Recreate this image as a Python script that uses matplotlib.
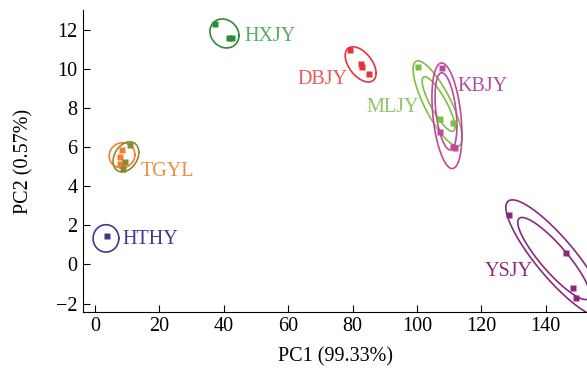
import numpy as np
import matplotlib
matplotlib.use("Agg")
import matplotlib.pyplot as plt

plt.rcParams['font.family'] = ['Liberation Serif', 'DejaVu Serif']
plt.rcParams['mathtext.fontset'] = 'stix'

# ---- data ----
groups = ["HXJY", "DBJY", "MLJY", "KBJY", "YSJY", "TGYL", "TGYL2", "HTHY"]
pts_x = {
    "HXJY": [37.3, 41.5, 42.6],
    "DBJY": [79.2, 82.6, 82.9, 85.1],
    "MLJY": [100.3, 107.1, 111.2],
    "KBJY": [107.8, 107.1, 111.3, 111.8],
    "YSJY": [128.6, 146.3, 148.4, 149.4],
    "TGYL": [8.4, 7.8, 7.8, 8.5],
    "TGYL2": [10.8, 9.4, 8.6],
    "HTHY": [3.7],
}
pts_y = {
    "HXJY": [12.3, 11.6, 11.58],
    "DBJY": [10.97, 10.26, 10.1, 9.74],
    "MLJY": [10.1, 7.45, 7.24],
    "KBJY": [10.05, 6.78, 6.0, 5.95],
    "YSJY": [2.53, 0.59, -1.2, -1.7],
    "TGYL": [5.85, 5.5, 5.15, 5.1],
    "TGYL2": [6.1, 5.25, 4.9],
    "HTHY": [1.43],
}
# confidence ellipses: centre, half x-extent, half y-extent, correlation
ell_group = ["HXJY", "DBJY", "MLJY", "MLJY", "KBJY", "KBJY", "YSJY", "YSJY", "TGYL", "TGYL2", "HTHY"]
ell_cx = [40.2, 82.5, 106.4, 106.7, 109.3, 109.0, 143.2, 142.5, 8.4, 9.6, 3.4]
ell_cy = [11.81, 10.23, 8.23, 8.2, 7.6, 7.83, 0.3, 0.3, 5.58, 5.5, 1.33]
ell_sx = [4.5, 4.8, 7.6, 5.1, 4.66, 3.4, 15.6, 11.2, 4.0, 4.0, 4.0]
ell_sy = [0.74, 0.9, 2.18, 1.4, 2.7, 1.97, 3.0, 2.1, 0.64, 0.77, 0.7]
ell_rho = [-0.15, -0.5, -0.8, -0.84, -0.35, -0.38, -0.87, -0.88, 0.05, 0.3, 0.0]

x_ticks = [0, 20, 40, 60, 80, 100, 120, 140]
y_ticks = [-2, 0, 2, 4, 6, 8, 10, 12]

# ---- styles ----
mark_color = {
    "HXJY": "#2d8a36", "DBJY": "#e8333a", "MLJY": "#7dbf45", "KBJY": "#c2479d",
    "YSJY": "#872a7e", "TGYL": "#f47f2a", "TGYL2": "#8a8a30", "HTHY": "#3e3a8e",
}
text_color = {
    "HXJY": "#55ad60", "DBJY": "#ee5757", "MLJY": "#8cc56a", "KBJY": "#b34d99",
    "YSJY": "#862c7d", "TGYL": "#f58a3a", "HTHY": "#3e3a8e",
}
label_pos = {
    "HXJY": (46.3, 11.64), "DBJY": (63.0, 9.44), "MLJY": (84.2, 8.0),
    "KBJY": (112.7, 9.08), "YSJY": (121.1, -0.38), "TGYL": (14.3, 4.73),
    "HTHY": (8.4, 1.25),
}

fig = plt.figure(figsize=(5.87, 3.70), dpi=100)
ax = fig.add_axes([0.1414, 0.157, 0.8586, 0.8154])

t = np.linspace(0, 2 * np.pi, 300)
for g, cx, cy, sx, sy, r in zip(ell_group, ell_cx, ell_cy, ell_sx, ell_sy, ell_rho):
    ex = cx + sx * np.cos(t)
    ey = cy + sy * (r * np.cos(t) + np.sqrt(1 - r * r) * np.sin(t))
    ax.plot(ex, ey, color=mark_color[g], lw=1.2, clip_on=True)

for g in groups:
    ax.plot(pts_x[g], pts_y[g], ls="none", marker="s", ms=4.3,
            color=mark_color[g], mec="none")

for g, (lx, ly) in label_pos.items():
    ax.text(lx, ly, g, color=text_color[g], fontsize=14.5, va="center", ha="left")

ax.set_xlim(-3.73, 152.8)
ax.set_ylim(-2.43, 13.0)
ax.set_xticks(x_ticks)
ax.set_yticks(y_ticks)
ax.set_yticklabels([f"\u2212{abs(v)}" if v < 0 else str(v) for v in y_ticks])
ax.tick_params(direction="in", length=5, width=0.8, labelsize=14.5, pad=4)
ax.spines["top"].set_visible(False)
ax.spines["right"].set_visible(False)
for s in ("left", "bottom"):
    ax.spines[s].set_linewidth(0.8)

ax.set_xlabel("PC1 (99.33%)", fontsize=14.5, labelpad=8)
ax.set_ylabel("PC2 (0.57%)", fontsize=14.5, labelpad=16)

fig.savefig("out.png", dpi=100)
